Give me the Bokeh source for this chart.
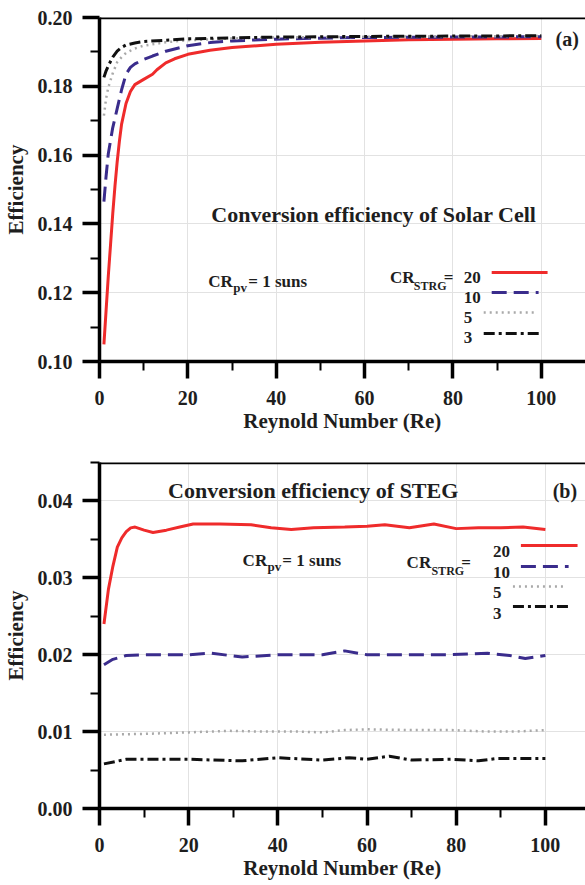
from bokeh.plotting import figure
from bokeh.models import Range1d, FixedTicker, PrintfTickFormatter, Label, Span
from bokeh.layouts import column
from bokeh.embed import file_html
from bokeh.resources import INLINE

# ---------------- data: panel (a) solar cell efficiency ----------------
re_a_20 = [1, 1.5, 2, 2.5, 3, 3.5, 4, 4.5, 5, 6, 7, 8, 10, 12, 13, 15, 17, 20, 25, 30, 40, 50, 60, 70, 80, 90, 100]
eff_a_20 = [0.105, 0.115, 0.125, 0.134, 0.143, 0.151, 0.158, 0.164, 0.169, 0.175, 0.1785, 0.1805, 0.182, 0.1835,
            0.1848, 0.1868, 0.188, 0.1893, 0.1905, 0.1913, 0.1922, 0.1928, 0.1932, 0.1935, 0.1937, 0.1938, 0.1939]
re_a_10 = [1, 1.5, 2, 3, 4, 5, 6, 7, 8, 10, 12, 15, 20, 25, 30, 40, 50, 60, 80, 100]
eff_a_10 = [0.1465, 0.154, 0.1605, 0.168, 0.1735, 0.179, 0.1835, 0.1855, 0.1865, 0.1878, 0.1888, 0.1902,
            0.1918, 0.1927, 0.1932, 0.1937, 0.194, 0.1942, 0.1943, 0.1944]
re_a_5 = [1, 1.5, 2, 3, 4, 5, 6, 8, 10, 15, 20, 30, 40, 60, 80, 100]
eff_a_5 = [0.1715, 0.1765, 0.1797, 0.1838, 0.187, 0.1885, 0.1897, 0.191, 0.1918, 0.1928, 0.1934, 0.1939,
           0.1942, 0.1944, 0.1945, 0.1946]
re_a_3 = [1, 1.5, 2, 3, 4, 5, 6, 8, 10, 15, 20, 30, 40, 60, 80, 100]
eff_a_3 = [0.1826, 0.1845, 0.186, 0.1885, 0.1902, 0.1913, 0.192, 0.1926, 0.193, 0.1934, 0.1938, 0.1941,
           0.1943, 0.1945, 0.1946, 0.1947]

# ---------------- data: panel (b) STEG efficiency ----------------
re_b_20 = [1, 2, 3, 4, 5, 6, 7, 8, 10, 12, 15, 18, 21, 27, 34, 38.5, 43, 48, 55, 60, 64, 69.5, 75, 80, 85, 90, 95, 100]
eff_b_20 = [0.024, 0.0285, 0.0315, 0.034, 0.0352, 0.036, 0.0365, 0.0366, 0.0362, 0.0359, 0.0362, 0.0366, 0.037,
            0.037, 0.0369, 0.0365, 0.0363, 0.0365, 0.0366, 0.0367, 0.0369, 0.0365, 0.037, 0.0364, 0.0365, 0.0365,
            0.0366, 0.0363]
re_b_10 = [1, 3, 6, 10, 20, 25, 32, 40, 50, 55, 60, 70, 78, 87, 92, 95.5, 100]
eff_b_10 = [0.0187, 0.0194, 0.0199, 0.02, 0.02, 0.0202, 0.0197, 0.02, 0.02, 0.0205, 0.02, 0.02, 0.02, 0.0202,
            0.0199, 0.0195, 0.0199]
re_b_5 = [1, 10, 20, 29, 37, 45, 50, 55, 60, 70, 79, 87, 93, 100]
eff_b_5 = [0.0096, 0.0097, 0.0099, 0.0101, 0.01, 0.01, 0.0099, 0.0102, 0.0103, 0.0102, 0.0102, 0.01, 0.01, 0.0102]
re_b_3 = [1, 6, 20, 32, 40, 50, 56, 60, 65, 70, 79, 85, 89, 100]
eff_b_3 = [0.0058, 0.0064, 0.0064, 0.0062, 0.0066, 0.0063, 0.0066, 0.0064, 0.0068, 0.0063, 0.0064, 0.0062,
           0.0065, 0.0065]

cr_labels = ["20", "10", "5", "3"]

# ---------------- ticks ----------------
x_ticks = [0, 20, 40, 60, 80, 100]
x_minor = [10, 30, 50, 70, 90]
y_ticks_a = [0.10, 0.12, 0.14, 0.16, 0.18, 0.20]
y_minor_a = [0.11, 0.13, 0.15, 0.17, 0.19]
y_ticks_b = [0.00, 0.01, 0.02, 0.03, 0.04]
y_minor_b = [0.005, 0.015, 0.025, 0.035, 0.045]

FONT = "Liberation Serif"
TXT = "#1e1e1e"
RED = "#ef2b2b"
BLUE = "#3a2c8c"
GRAY = "#a9a9a9"
BLACK = "#111111"
styles = [
    dict(color=RED, line_width=3, line_dash="solid"),
    dict(color=BLUE, line_width=3, line_dash="15 7"),
    dict(color=GRAY, line_width=2.5, line_dash="2 4"),
    dict(color=BLACK, line_width=3, line_dash="11 4 3 4"),
]


def make_fig(height, left, top, bottom, xr, yr, yt, ym):
    p = figure(width=585, height=height, output_backend="svg", toolbar_location=None,
               x_range=Range1d(*xr), y_range=Range1d(*yr),
               min_border_left=left, min_border_right=0, min_border_top=top,
               min_border_bottom=bottom)
    p.outline_line_color = None
    p.xaxis.ticker = FixedTicker(ticks=x_ticks, minor_ticks=x_minor)
    p.yaxis.ticker = FixedTicker(ticks=yt, minor_ticks=ym)
    p.yaxis.formatter = PrintfTickFormatter(format="%.2f")
    for ax in (p.xaxis[0], p.yaxis[0]):
        ax.axis_line_width = 3.5
        ax.axis_line_color = "black"
        ax.major_tick_line_width = 3.5
        ax.major_tick_line_color = "black"
        ax.major_tick_out = 17
        ax.major_tick_in = 0
        ax.minor_tick_line_width = 2
        ax.minor_tick_line_color = "black"
        ax.minor_tick_out = 9
        ax.minor_tick_in = 0
        ax.major_label_text_font = FONT
        ax.major_label_text_font_style = "bold"
        ax.major_label_text_font_size = "20px"
        ax.major_label_text_color = TXT
        ax.axis_label_text_font = FONT
        ax.axis_label_text_font_style = "bold"
        ax.axis_label_text_font_size = "21px"
        ax.axis_label_text_color = TXT
    p.xaxis.axis_label = "Reynold Number (Re)"
    p.yaxis.axis_label = "Efficiency"
    p.xaxis.major_label_standoff = 12
    p.xaxis.axis_label_standoff = 1
    p.yaxis.major_label_standoff = 10
    p.yaxis.axis_label_standoff = 7
    p.grid.grid_line_color = "#e2e2e2"
    p.grid.grid_line_width = 1
    p.add_layout(Span(location=yr[1], dimension="width", line_color="black", line_width=3.5))
    return p


def geom(left, right, top, bottom, xr, yr):
    def f(px, py):
        x = xr[0] + (px - left) / (right - left) * (xr[1] - xr[0])
        y = yr[1] - (py - top) / (bottom - top) * (yr[1] - yr[0])
        return x, y
    return f


def lab(p, g, px, py, text, size, **kw):
    x, y = g(px, py)
    p.add_layout(Label(x=x, y=y, text=text, text_font=FONT, text_font_style="bold",
                       text_font_size=f"{size}px", text_color=TXT,
                       text_baseline="alphabetic", **kw))


def legend_block(p, g, items, lines):
    for (tx, ty, txt), (x0, x1, ly), st in zip(items, lines, styles):
        lab(p, g, tx, ty, txt, 17)
        a, yv = g(x0, ly)
        b, _ = g(x1, ly)
        p.line([a, b], [yv, yv], **st)


# ---------------- panel (a) ----------------
xr_a, yr_a = (0, 110), (0.10, 0.20)
p1 = make_fig(440, 98, 17, 79, xr_a, yr_a, y_ticks_a, y_minor_a)
ga = geom(98, 585, 17, 361, xr_a, yr_a)
for xs, ys, st in zip([re_a_20, re_a_10, re_a_5, re_a_3], [eff_a_20, eff_a_10, eff_a_5, eff_a_3], styles):
    p1.line(xs, ys, **st)
lab(p1, ga, 210, 214, "Conversion efficiency of Solar Cell", 22)
lab(p1, ga, 555, 38, "(a)", 20)
lab(p1, ga, 207, 281, "CR", 17)
lab(p1, ga, 232, 287, "pv", 13)
lab(p1, ga, 247, 281, "= 1 suns", 17)
lab(p1, ga, 389, 277, "CR", 17)
lab(p1, ga, 413, 285, "STRG", 12)
lab(p1, ga, 443, 277, "=", 17)
legend_block(p1, ga,
             [(463, 277, cr_labels[0]), (463, 297, cr_labels[1]), (463, 317, cr_labels[2]), (463, 337, cr_labels[3])],
             [(491, 547, 272), (491, 538, 292), (483, 535, 312), (483, 540, 333)])

# ---------------- panel (b) ----------------
xr_b, yr_b = (0, 109), (0.0, 0.045)
p2 = make_fig(445, 96, 22, 77, xr_b, yr_b, y_ticks_b, y_minor_b)
gb = geom(96, 585, 22, 368, xr_b, yr_b)
for xs, ys, st in zip([re_b_20, re_b_10, re_b_5, re_b_3], [eff_b_20, eff_b_10, eff_b_5, eff_b_3], styles):
    p2.line(xs, ys, **st)
lab(p2, gb, 165, 50, "Conversion efficiency of  STEG", 22)
lab(p2, gb, 552, 50, "(b)", 20)
lab(p2, gb, 240, 120, "CR", 17)
lab(p2, gb, 265, 126, "pv", 13)
lab(p2, gb, 280, 120, "= 1 suns", 17)
lab(p2, gb, 405, 122, "CR", 17)
lab(p2, gb, 430, 130, "STRG", 12)
lab(p2, gb, 460, 122, "=", 17)
legend_block(p2, gb,
             [(492, 111, cr_labels[0]), (492, 132, cr_labels[1]), (492, 152, cr_labels[2]), (492, 173, cr_labels[3])],
             [(520, 577, 105), (520, 568, 126), (512, 565, 146), (512, 568, 166)])

layout = column(p1, p2)
open("out.html", "w").write(file_html(layout, INLINE))
